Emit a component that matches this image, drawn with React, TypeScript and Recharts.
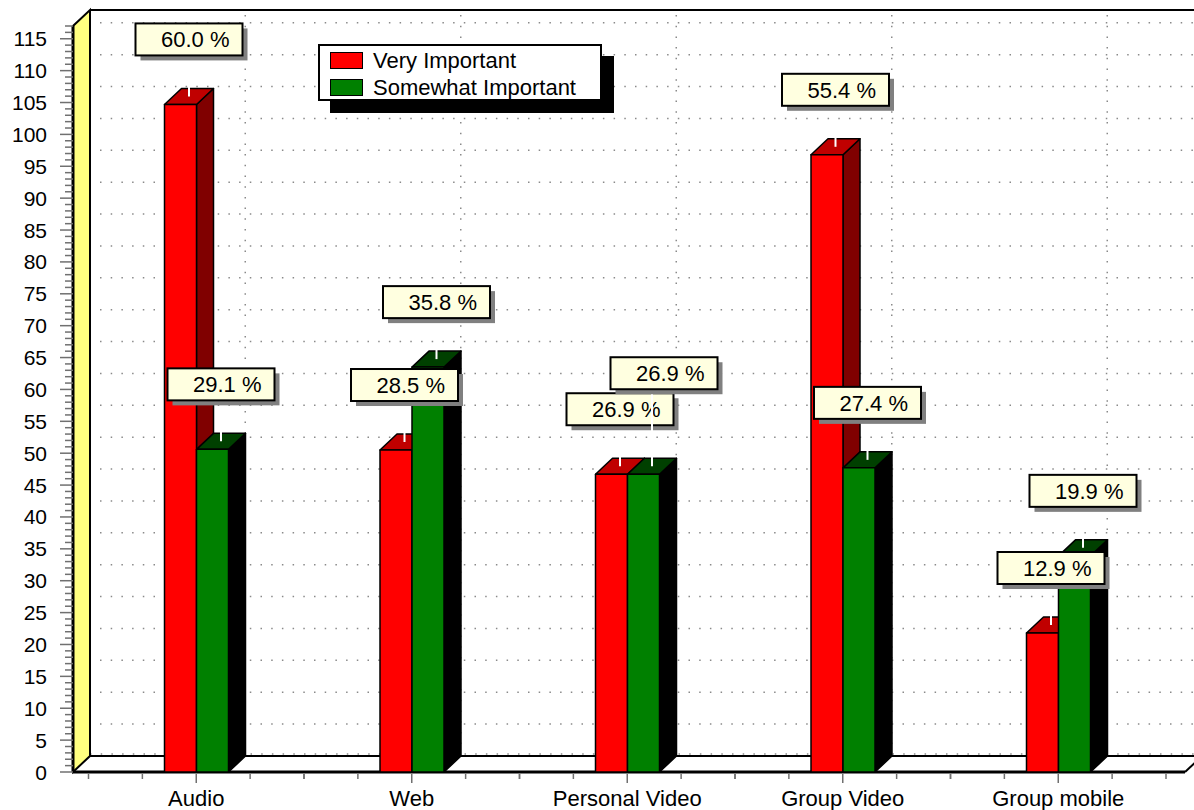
import React from "react";
import { BarChart, Bar, XAxis, YAxis, CartesianGrid, Legend, LabelList } from "recharts";

// survey categories and answer counts per importance level
const CATEGORIES = ["Audio", "Web", "Personal Video", "Group Video", "Group mobile"];
const VERY_IMPORTANT = [104.7, 50.5, 46.7, 96.8, 21.8];
const SOMEWHAT_IMPORTANT = [50.6, 63.5, 46.7, 47.7, 33.9];
// share of respondents printed above each bar
const VERY_PCT = [60.0, 28.5, 26.9, 55.4, 12.9];
const SOMEWHAT_PCT = [29.1, 35.8, 26.9, 27.4, 19.9];
const SERIES_NAMES = ["Very Important", "Somewhat Important"];
const Y_TICKS = [0, 5, 10, 15, 20, 25, 30, 35, 40, 45, 50, 55, 60, 65, 70, 75, 80, 85, 90, 95, 100, 105, 110, 115];
const Y_MAX = 117;

const data = CATEGORIES.map((name, i) => ({
  name,
  very: VERY_IMPORTANT[i],
  somewhat: SOMEWHAT_IMPORTANT[i],
  veryPct: VERY_PCT[i],
  somewhatPct: SOMEWHAT_PCT[i],
}));

// minor ticks every unit along the value axis
const Y_MINOR = Array.from({ length: Y_MAX + 1 }, (_, i) => i);

const W = 1194;
const H = 810;
const AXIS_X = 73;
const PLOT_TOP = 26;
const PLOT_BOTTOM = 772;
const PLOT_RIGHT = 1166;
const FLOOR_RIGHT = 1185;
const PAD_LEFT = 15.5;
const BAND = (PLOT_RIGHT - AXIS_X - PAD_LEFT) / CATEGORIES.length;
const DX = 17; // depth offset of the 3d look
const DY = 16;
const BAR = 32;
const BOX_W = 107;
const BOX_H = 32;
const FONT = "'Liberation Sans', Arial, sans-serif";
const GRID = "#8a8a8a";

// vertical grid lines run along the back-right edge of each category's bars
const V_GRID = CATEGORIES.map((_, i) => AXIS_X + PAD_LEFT + BAND * (i + 0.5) + BAR + DX);

const Frame = () => (
  <g>
    <polygon
      points={`${AXIS_X},${PLOT_BOTTOM} ${AXIS_X + DX},${PLOT_BOTTOM - DY} ${AXIS_X + DX},${PLOT_TOP - DY} ${AXIS_X},${PLOT_TOP}`}
      fill="#FFFF80"
      stroke="#000"
      strokeWidth={2}
    />
    <line x1={AXIS_X + DX} y1={PLOT_TOP - DY} x2={W} y2={PLOT_TOP - DY} stroke="#000" strokeWidth={2} />
    <line x1={AXIS_X} y1={PLOT_BOTTOM} x2={FLOOR_RIGHT} y2={PLOT_BOTTOM} stroke="#000" strokeWidth={3} />
    <line x1={FLOOR_RIGHT} y1={PLOT_BOTTOM} x2={FLOOR_RIGHT + DX} y2={PLOT_BOTTOM - DY} stroke="#000" strokeWidth={2} />
    <line x1={AXIS_X} y1={PLOT_TOP} x2={AXIS_X} y2={PLOT_BOTTOM} stroke="#000" strokeWidth={3} />
  </g>
);

// horizontal grid lines sit on the back wall
const renderHLine = (p: any) => {
  const y = p.y1 - DY;
  if (Math.abs(p.y1 - PLOT_BOTTOM) < 1) {
    return (
      <g key={`h-${p.index}`}>
        <line x1={AXIS_X + DX} y1={y - 2} x2={W} y2={y - 2} stroke={GRID} strokeWidth={1.5} strokeDasharray="1.5 9.2" />
        <line x1={AXIS_X + DX} y1={y} x2={W} y2={y} stroke="#000" strokeWidth={2} />
      </g>
    );
  }
  return (
    <g key={`h-${p.index}`}>
      <line x1={AXIS_X + DX + 10} y1={y} x2={W} y2={y} stroke={GRID} strokeWidth={1.5} strokeDasharray="1.5 9.2" />
      <circle cx={AXIS_X + DX / 2} cy={p.y1 - DY / 2} r={1} fill={GRID} />
    </g>
  );
};

const renderVLine = (p: any) => (
  <line
    key={`v-${p.index}`}
    x1={p.x1}
    y1={PLOT_TOP - DY + 5}
    x2={p.x1}
    y2={PLOT_BOTTOM - DY - 4}
    stroke={GRID}
    strokeWidth={1.5}
    strokeDasharray="1.5 9.2"
  />
);

const YTick = (p: any) => {
  const v = p.payload.value;
  const major = v % 5 === 0;
  return (
    <g>
      <line x1={AXIS_X - (major ? 13 : 8)} y1={p.y} x2={AXIS_X} y2={p.y} stroke="#707070" strokeWidth={1.5} />
      {major && v <= 115 && (
        <text x={47} y={p.y + 7.5} textAnchor="end" fontSize={21} fill="#000">
          {v}
        </text>
      )}
    </g>
  );
};

const XTick = (p: any) => {
  const x = p.x;
  return (
    <g>
      {[-BAND / 2, -BAND / 4, BAND / 4, BAND / 2].map((d) => (
        <line key={d} x1={x + d} y1={PLOT_BOTTOM + 2} x2={x + d} y2={PLOT_BOTTOM + 7} stroke="#707070" strokeWidth={1.5} />
      ))}
      <line x1={x} y1={PLOT_BOTTOM + 2} x2={x} y2={PLOT_BOTTOM + 11} stroke="#707070" strokeWidth={1.5} />
      <text x={x} y={806} textAnchor="middle" fontSize={22} fill="#000">
        {p.payload.value}
      </text>
    </g>
  );
};

// front face, top face and right side face of a box
const makeBar3D = (top: string, side: string) => (p: any) => {
  const { x, y, width: w, height: h, fill } = p;
  if (h == null || h <= 0) return <g />;
  return (
    <g stroke="#000" strokeWidth={1.5} strokeLinejoin="round">
      <polygon points={`${x + w},${y} ${x + w + DX},${y - DY} ${x + w + DX},${y + h - DY} ${x + w},${y + h}`} fill={side} />
      <polygon points={`${x},${y} ${x + DX},${y - DY} ${x + w + DX},${y - DY} ${x + w},${y}`} fill={top} />
      <rect x={x} y={y} width={w} height={h} fill={fill} />
    </g>
  );
};

const makeLabel = (series: "very" | "somewhat") => (p: any) => {
  const vb = p.viewBox ?? p;
  const { x, y, width, height } = vb;
  const row = data[p.index];
  const cx = x + width / 2 + DX / 2;
  let top = y - DY - 33 - BOX_H;
  let left = cx - BOX_W / 2;
  if (series === "somewhat") {
    // lift the label when it would collide with its neighbour
    const pxPerUnit = height / row.somewhat;
    if (Math.abs(row.very - row.somewhat) * pxPerUnit < BOX_H + 4) {
      top -= BOX_H + 4;
      left += 12;
    }
  }
  return (
    <g>
      <line x1={cx} y1={top + BOX_H} x2={cx} y2={y - DY / 2} stroke="#fff" strokeWidth={2} />
      <rect x={left + 5} y={top + 5} width={BOX_W} height={BOX_H} fill="#808080" />
      <rect x={left} y={top} width={BOX_W} height={BOX_H} fill="#FFFFE0" stroke="#000" strokeWidth={2} />
      <text x={left + BOX_W - 13} y={top + 24} textAnchor="end" fontSize={22} fill="#000">
        {`${Number(p.value).toFixed(1)} %`}
      </text>
    </g>
  );
};

const LegendBox = (props: any) => {
  const items = [...(props.payload || [])].sort(
    (a: any, b: any) => SERIES_NAMES.indexOf(a.value) - SERIES_NAMES.indexOf(b.value)
  );
  return (
    <div
      style={{
        boxSizing: "border-box",
        width: 284,
        height: 57,
        border: "2px solid #000",
        background: "#fff",
        boxShadow: "12px 12px 0 #000",
        paddingTop: 1,
        fontFamily: FONT,
        fontSize: 22,
        lineHeight: "27px",
      }}
    >
      {items.map((e: any) => (
        <div key={e.value} style={{ display: "flex", alignItems: "center", height: 27 }}>
          <span
            style={{
              display: "inline-block",
              boxSizing: "border-box",
              width: 33,
              height: 17,
              marginLeft: 10,
              marginRight: 10,
              background: e.color,
              border: "1.5px solid #000",
            }}
          />
          <span style={{ color: "#000" }}>{e.value}</span>
        </div>
      ))}
    </div>
  );
};

export default function App() {
  return (
    <div style={{ position: "absolute", left: 0, top: 0, width: W, height: H, background: "#fff", fontFamily: FONT }}>
      <BarChart
        width={W}
        height={H}
        data={data}
        margin={{ top: PLOT_TOP, right: W - PLOT_RIGHT, bottom: 8, left: 0 }}
        barSize={BAR}
        barGap={0}
      >
        <Frame />
        <CartesianGrid
          horizontal={renderHLine}
          vertical={renderVLine}
          horizontalValues={Y_TICKS}
          verticalPoints={V_GRID}
        />
        <XAxis
          dataKey="name"
          height={H - PLOT_BOTTOM - 8}
          padding={{ left: PAD_LEFT, right: 0 }}
          axisLine={false}
          tickLine={false}
          interval={0}
          tick={XTick}
        />
        <YAxis
          type="number"
          width={AXIS_X}
          domain={[0, Y_MAX]}
          ticks={Y_MINOR}
          interval={0}
          axisLine={false}
          tickLine={false}
          tick={YTick}
        />
        <Legend
          layout="vertical"
          align="center"
          verticalAlign="middle"
          content={LegendBox}
          wrapperStyle={{ left: 318, top: 44, width: 284, height: 57 }}
        />
        <Bar dataKey="very" name={SERIES_NAMES[0]} fill="#FF0000" isAnimationActive={false} shape={makeBar3D("#C00000", "#800000")}>
          <LabelList dataKey="veryPct" content={makeLabel("very")} />
        </Bar>
        <Bar dataKey="somewhat" name={SERIES_NAMES[1]} fill="#008000" isAnimationActive={false} shape={makeBar3D("#004000", "#000000")}>
          <LabelList dataKey="somewhatPct" content={makeLabel("somewhat")} />
        </Bar>
      </BarChart>
    </div>
  );
}
